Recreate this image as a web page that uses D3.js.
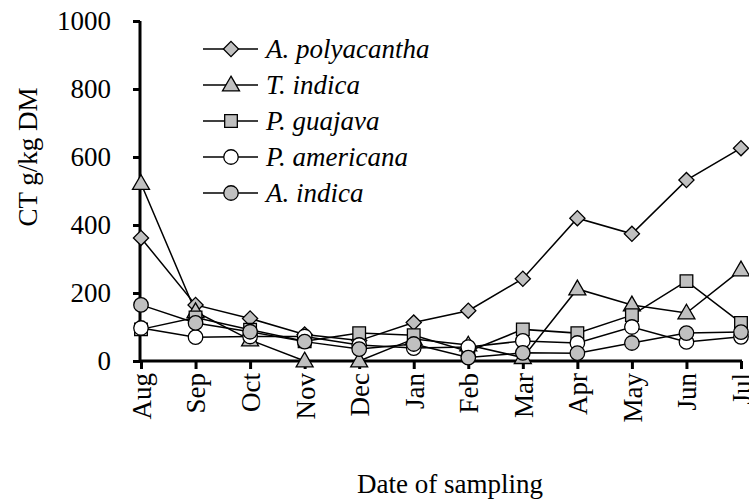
<!DOCTYPE html>
<html>
<head>
<meta charset="utf-8">
<script src="https://cdn.jsdelivr.net/npm/d3@7"></script>
<style>
body { margin: 0; background: #fff; }
</style>
</head>
<body>
<svg width="749" height="500" style="font-family: 'Liberation Serif', serif;"></svg>
<script>

var months = ["Aug", "Sep", "Oct", "Nov", "Dec", "Jan", "Feb", "Mar", "Apr", "May", "Jun", "Jul"];
var yTicks = [0, 200, 400, 600, 800, 1000];

var polyacantha = [362, 165, 125, 78, 60, 113, 148, 242, 420, 374, 532, 626];
var tindica     = [522, 145, 62, 0, 0, 65, 47, 10, 212, 165, 141, 268];
var guajava     = [93, 128, 92, 58, 82, 76, 28, 93, 82, 135, 235, 112];
var americana   = [97, 70, 72, 72, 47, 38, 41, 59, 53, 100, 56, 71];
var aindica     = [165, 112, 86, 57, 35, 50, 10, 24, 23, 53, 82, 85];

var series = [
	{name: "A. polyacantha", values: polyacantha, shape: "diamond", fill: "#c0c0c0"},
	{name: "T. indica", values: tindica, shape: "triangle", fill: "#c0c0c0"},
	{name: "P. guajava", values: guajava, shape: "square", fill: "#c0c0c0"},
	{name: "P. americana", values: americana, shape: "circle", fill: "#fff"},
	{name: "A. indica", values: aindica, shape: "circle", fill: "#c0c0c0"}
];

var serif = "Liberation Serif, serif";
var svg = d3.select("svg");

var x = d3.scalePoint().domain(months).range([141, 741]);
var y = d3.scaleLinear().domain([0, 1000]).range([361, 21]);

var symbols = {
	diamond: d3.symbol().type(d3.symbolSquare).size(115),
	triangle: d3.symbol().type(d3.symbolTriangle).size(125),
	square: d3.symbol().type(d3.symbolSquare).size(160),
	circle: d3.symbol().type(d3.symbolCircle).size(165)
};

function drawMarker(g, s) {
	var p = g.append("path")
		.attr("d", symbols[s.shape]())
		.attr("fill", s.fill)
		.attr("stroke", "#000")
		.attr("stroke-width", 1.3);
	if (s.shape == "diamond") p.attr("transform", "rotate(45)");
	if (s.shape == "triangle") p.attr("transform", "translate(0,1)");
	return p;
}

var line = d3.line()
	.x(function(d, i) { return x(months[i]); })
	.y(function(d) { return y(d); });

// axes
var yAxis = svg.append("g")
	.attr("transform", "translate(140,0)")
	.call(d3.axisLeft(y).tickValues(yTicks).tickFormat(d3.format("d")).tickSize(7).tickPadding(22));
yAxis.attr("font-family", serif).attr("font-size", 27);
yAxis.select(".domain").attr("d", "M0," + y(1000) + "V" + y(0)).attr("stroke-width", 3);
yAxis.selectAll(".tick line").attr("stroke-width", 3);

var xAxis = svg.append("g")
	.attr("transform", "translate(0," + y(0) + ")")
	.call(d3.axisBottom(x).tickSize(8));
xAxis.attr("font-family", serif).attr("font-size", 27);
xAxis.select(".domain").attr("d", "M140,0H742").attr("stroke-width", 3);
xAxis.selectAll(".tick line").attr("stroke-width", 3);
xAxis.selectAll("text")
	.attr("transform", "rotate(-90)")
	.attr("text-anchor", "end")
	.attr("x", -12)
	.attr("y", 0)
	.attr("dy", "0.35em");

// lines and markers
series.forEach(function(s) {
	svg.append("path")
		.datum(s.values)
		.attr("fill", "none")
		.attr("stroke", "#000")
		.attr("stroke-width", 1.5)
		.attr("d", line);
});
series.forEach(function(s) {
	s.values.forEach(function(v, i) {
		var g = svg.append("g").attr("transform", "translate(" + x(months[i]) + "," + y(v) + ")");
		drawMarker(g, s);
	});
});

// legend
var legend = svg.append("g");
series.forEach(function(s, i) {
	var ly = 49 + i * 36;
	legend.append("line")
		.attr("x1", 203).attr("x2", 258)
		.attr("y1", ly).attr("y2", ly)
		.attr("stroke", "#000").attr("stroke-width", 1.5);
	drawMarker(legend.append("g").attr("transform", "translate(231," + ly + ")"), s);
	legend.append("text")
		.attr("x", 266).attr("y", ly)
		.attr("dy", "0.35em")
		.attr("font-family", serif)
		.attr("font-size", 27)
		.attr("font-style", "italic")
		.text(s.name);
});

// axis titles
svg.append("text")
	.attr("transform", "translate(28,157) rotate(-90)")
	.attr("text-anchor", "middle")
	.attr("dy", "0.35em")
	.attr("font-family", serif)
	.attr("font-size", 27)
	.text("CT g/kg DM");

svg.append("text")
	.attr("x", 450).attr("y", 493)
	.attr("text-anchor", "middle")
	.attr("font-family", serif)
	.attr("font-size", 27)
	.text("Date of sampling");

</script>
</body>
</html>
